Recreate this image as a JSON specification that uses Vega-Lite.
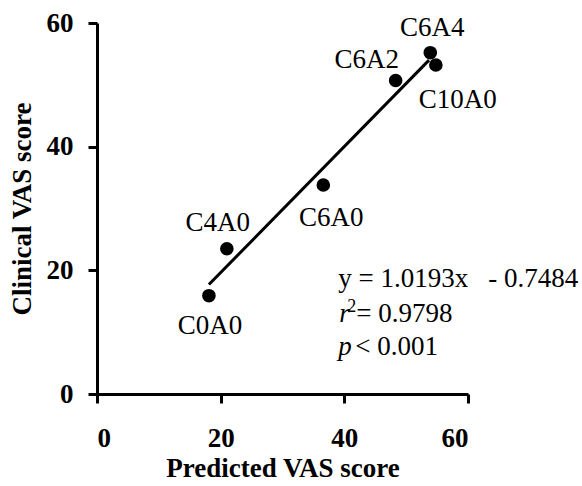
{
  "$schema": "https://vega.github.io/schema/vega-lite/v6.json",
  "autosize": {"type": "none"},
  "width": 371,
  "height": 371,
  "padding": {"left": 97, "top": 23, "right": 114, "bottom": 92},
  "background": "white",
  "datasets": {
    "samples": [
      {"label": "C0A0", "predicted": 18.1, "clinical": 15.9},
      {"label": "C4A0", "predicted": 21.0, "clinical": 23.5},
      {"label": "C6A0", "predicted": 36.6, "clinical": 33.8},
      {"label": "C6A2", "predicted": 48.3, "clinical": 50.7},
      {"label": "C6A4", "predicted": 53.9, "clinical": 55.2},
      {"label": "C10A0", "predicted": 54.8, "clinical": 53.2}
    ],
    "fit": [
      {"predicted": 18.1, "clinical": 17.70},
      {"predicted": 53.7, "clinical": 53.99}
    ]
  },
  "data": {"name": "samples"},
  "layer": [
    {
      "data": {"name": "fit"},
      "mark": {"type": "line", "color": "black", "strokeWidth": 3},
      "encoding": {
        "x": {"field": "predicted", "type": "quantitative", "scale": {"domain": [0, 60], "nice": false, "zero": false},
              "axis": {"values": [0, 20, 40, 60], "title": "Predicted VAS score"}},
        "y": {"field": "clinical", "type": "quantitative", "scale": {"domain": [0, 60], "nice": false, "zero": false},
              "axis": {"values": [0, 20, 40, 60], "title": "Clinical VAS score"}}
      }
    },
    {
      "mark": {"type": "circle", "size": 185, "color": "black", "opacity": 1},
      "encoding": {
        "x": {"field": "predicted", "type": "quantitative"},
        "y": {"field": "clinical", "type": "quantitative"}
      }
    },
    {
      "transform": [{"filter": "datum.label === 'C0A0'"}],
      "mark": {"type": "text", "font": "Times New Roman", "fontSize": 27, "baseline": "middle", "dx": 1, "dy": 30},
      "encoding": {"x": {"field": "predicted", "type": "quantitative"}, "y": {"field": "clinical", "type": "quantitative"}, "text": {"field": "label"}}
    },
    {
      "transform": [{"filter": "datum.label === 'C4A0'"}],
      "mark": {"type": "text", "font": "Times New Roman", "fontSize": 27, "baseline": "middle", "dx": -9, "dy": -26},
      "encoding": {"x": {"field": "predicted", "type": "quantitative"}, "y": {"field": "clinical", "type": "quantitative"}, "text": {"field": "label"}}
    },
    {
      "transform": [{"filter": "datum.label === 'C6A0'"}],
      "mark": {"type": "text", "font": "Times New Roman", "fontSize": 27, "baseline": "middle", "dx": 8, "dy": 33},
      "encoding": {"x": {"field": "predicted", "type": "quantitative"}, "y": {"field": "clinical", "type": "quantitative"}, "text": {"field": "label"}}
    },
    {
      "transform": [{"filter": "datum.label === 'C6A2'"}],
      "mark": {"type": "text", "font": "Times New Roman", "fontSize": 27, "baseline": "middle", "dx": -29, "dy": -21},
      "encoding": {"x": {"field": "predicted", "type": "quantitative"}, "y": {"field": "clinical", "type": "quantitative"}, "text": {"field": "label"}}
    },
    {
      "transform": [{"filter": "datum.label === 'C6A4'"}],
      "mark": {"type": "text", "font": "Times New Roman", "fontSize": 27, "baseline": "middle", "dx": 2, "dy": -25},
      "encoding": {"x": {"field": "predicted", "type": "quantitative"}, "y": {"field": "clinical", "type": "quantitative"}, "text": {"field": "label"}}
    },
    {
      "transform": [{"filter": "datum.label === 'C10A0'"}],
      "mark": {"type": "text", "font": "Times New Roman", "fontSize": 27, "baseline": "middle", "dx": 22, "dy": 35},
      "encoding": {"x": {"field": "predicted", "type": "quantitative"}, "y": {"field": "clinical", "type": "quantitative"}, "text": {"field": "label"}}
    },
    {
      "transform": [{"filter": "datum.label === 'C0A0'"}],
      "mark": {"type": "text", "font": "Times New Roman", "fontSize": 27, "align": "left", "baseline": "alphabetic", "text": "y = 1.0193x"},
      "encoding": {"x": {"datum": 39, "type": "quantitative"}, "y": {"datum": 17.36, "type": "quantitative"}}
    },
    {
      "transform": [{"filter": "datum.label === 'C0A0'"}],
      "mark": {"type": "text", "font": "Times New Roman", "fontSize": 27, "align": "left", "baseline": "alphabetic", "dx": 150, "text": "- 0.7484"},
      "encoding": {"x": {"datum": 39, "type": "quantitative"}, "y": {"datum": 17.36, "type": "quantitative"}}
    },
    {
      "transform": [{"filter": "datum.label === 'C0A0'"}],
      "mark": {"type": "text", "font": "Times New Roman", "fontSize": 27, "fontStyle": "italic", "align": "left", "baseline": "alphabetic", "dx": 1, "text": "r"},
      "encoding": {"x": {"datum": 39, "type": "quantitative"}, "y": {"datum": 11.7, "type": "quantitative"}}
    },
    {
      "transform": [{"filter": "datum.label === 'C0A0'"}],
      "mark": {"type": "text", "font": "Times New Roman", "fontSize": 18, "align": "left", "baseline": "alphabetic", "dx": 9, "dy": -10, "text": "2"},
      "encoding": {"x": {"datum": 39, "type": "quantitative"}, "y": {"datum": 11.7, "type": "quantitative"}}
    },
    {
      "transform": [{"filter": "datum.label === 'C0A0'"}],
      "mark": {"type": "text", "font": "Times New Roman", "fontSize": 27, "align": "left", "baseline": "alphabetic", "dx": 18, "text": "= 0.9798"},
      "encoding": {"x": {"datum": 39, "type": "quantitative"}, "y": {"datum": 11.7, "type": "quantitative"}}
    },
    {
      "transform": [{"filter": "datum.label === 'C0A0'"}],
      "mark": {"type": "text", "font": "Times New Roman", "fontSize": 27, "fontStyle": "italic", "align": "left", "baseline": "alphabetic", "text": "p"},
      "encoding": {"x": {"datum": 39, "type": "quantitative"}, "y": {"datum": 6.3, "type": "quantitative"}}
    },
    {
      "transform": [{"filter": "datum.label === 'C0A0'"}],
      "mark": {"type": "text", "font": "Times New Roman", "fontSize": 27, "align": "left", "baseline": "alphabetic", "dx": 17, "text": "< 0.001"},
      "encoding": {"x": {"datum": 39, "type": "quantitative"}, "y": {"datum": 6.3, "type": "quantitative"}}
    }
  ],
  "config": {
    "view": {"stroke": null},
    "axis": {
      "grid": false,
      "domainColor": "black",
      "domainWidth": 3,
      "tickColor": "black",
      "tickWidth": 3,
      "tickSize": 9,
      "labelFont": "Times New Roman",
      "labelFontWeight": "bold",
      "labelFontSize": 27,
      "labelColor": "black",
      "titleFont": "Times New Roman",
      "titleFontWeight": "bold",
      "titleFontSize": 27,
      "titleColor": "black"
    },
    "axisX": {"labelPadding": 22, "titlePadding": 4},
    "axisY": {"labelPadding": 15, "titlePadding": 10}
  }
}
